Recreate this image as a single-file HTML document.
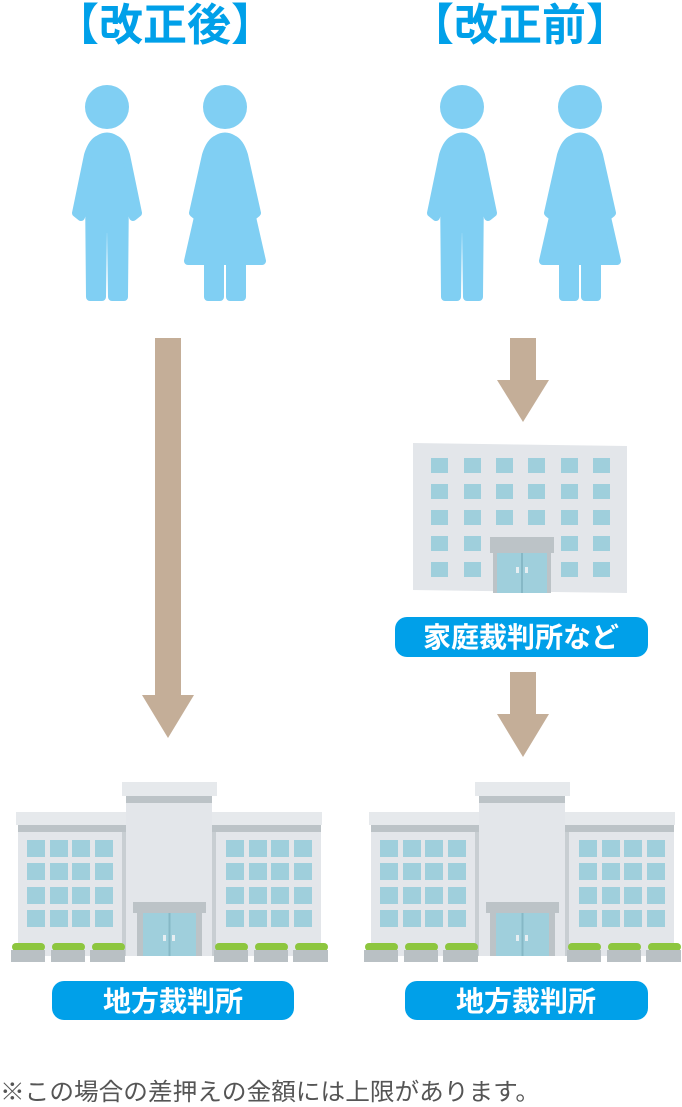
<!DOCTYPE html>
<html><head><meta charset="utf-8"><style>
html,body{margin:0;padding:0;background:#fff;}
svg{display:block;}
</style></head><body>
<svg width="682" height="1107" viewBox="0 0 682 1107" xmlns="http://www.w3.org/2000/svg">
<defs>
<g id="man" fill="#80cff3" stroke="#80cff3" stroke-width="8" stroke-linejoin="round" stroke-linecap="round">
  <circle cx="0" cy="0" r="22" stroke="none"/>
  <path d="M-8,32 Q0,27 8,32 Q15,35 19,48 L31,106 L26,110 L18,80 L17,190 L5,190 L4,122 L-4,122 L-5,190 L-17,190 L-18,80 L-26,110 L-31,106 L-19,48 Q-15,35 -8,32 Z"/>
</g>
<g id="woman" fill="#80cff3" stroke="#80cff3" stroke-width="8" stroke-linejoin="round" stroke-linecap="round">
  <circle cx="0" cy="0" r="22" stroke="none"/>
  <path d="M-8,32 Q0,27 8,32 Q15,35 19,48 L32,106 L27,110 L37,154 L17,154 L17,190 L5,190 L5,154 L-5,154 L-5,190 L-17,190 L-17,154 L-37,154 L-27,110 L-32,106 L-19,48 Q-15,35 -8,32 Z"/>
</g>
<g id="court">
  <rect x="122" y="782" width="95" height="14" fill="#e6e9ec"/>
  <rect x="126" y="796" width="86" height="7" fill="#bcc3c7"/>
  <rect x="126" y="803" width="86" height="153" fill="#e3e6ea"/>
  <rect x="16" y="812" width="110" height="13" fill="#e6e9ec"/>
  <rect x="212" y="812" width="110" height="13" fill="#e6e9ec"/>
  <rect x="18" y="825" width="108" height="7" fill="#bcc3c7"/>
  <rect x="212" y="825" width="109" height="7" fill="#bcc3c7"/>
  <rect x="18" y="832" width="108" height="124" fill="#e3e6ea"/>
  <rect x="122" y="832" width="4" height="124" fill="#c8ced2"/>
  <rect x="212" y="832" width="109" height="124" fill="#e3e6ea"/>
  <rect x="212" y="832" width="4" height="124" fill="#c8ced2"/>
  <g fill="#9fcfdc">
    <rect x="27" y="840" width="18" height="17"/><rect x="50" y="840" width="18" height="17"/><rect x="72" y="840" width="18" height="17"/><rect x="95" y="840" width="18" height="17"/>
    <rect x="27" y="863" width="18" height="17"/><rect x="50" y="863" width="18" height="17"/><rect x="72" y="863" width="18" height="17"/><rect x="95" y="863" width="18" height="17"/>
    <rect x="27" y="887" width="18" height="17"/><rect x="50" y="887" width="18" height="17"/><rect x="72" y="887" width="18" height="17"/><rect x="95" y="887" width="18" height="17"/>
    <rect x="27" y="910" width="18" height="17"/><rect x="50" y="910" width="18" height="17"/><rect x="72" y="910" width="18" height="17"/><rect x="95" y="910" width="18" height="17"/>
    <rect x="226" y="840" width="18" height="17"/><rect x="249" y="840" width="18" height="17"/><rect x="271" y="840" width="18" height="17"/><rect x="294" y="840" width="18" height="17"/>
    <rect x="226" y="863" width="18" height="17"/><rect x="249" y="863" width="18" height="17"/><rect x="271" y="863" width="18" height="17"/><rect x="294" y="863" width="18" height="17"/>
    <rect x="226" y="887" width="18" height="17"/><rect x="249" y="887" width="18" height="17"/><rect x="271" y="887" width="18" height="17"/><rect x="294" y="887" width="18" height="17"/>
    <rect x="226" y="910" width="18" height="17"/><rect x="249" y="910" width="18" height="17"/><rect x="271" y="910" width="18" height="17"/><rect x="294" y="910" width="18" height="17"/>
  </g>
  <rect x="133" y="902" width="73" height="11" fill="#bcc3c7"/>
  <rect x="137" y="913" width="65" height="43" fill="#bcc3c7"/>
  <rect x="143" y="913" width="53" height="43" fill="#9fcfdc"/>
  <rect x="168.5" y="913" width="2" height="43" fill="#86b8c6"/>
  <rect x="163" y="935" width="3" height="6" fill="#e6eef2"/><rect x="172" y="935" width="3" height="6" fill="#e6eef2"/>
  <g fill="#8dc63f">
    <rect x="12" y="943" width="33" height="8" rx="4"/><rect x="52" y="943" width="33" height="8" rx="4"/><rect x="92" y="943" width="33" height="8" rx="4"/>
    <rect x="215" y="943" width="33" height="8" rx="4"/><rect x="255" y="943" width="33" height="8" rx="4"/><rect x="295" y="943" width="33" height="8" rx="4"/>
  </g>
  <g fill="#b9c0c4">
    <rect x="11" y="950" width="34" height="12"/><rect x="51" y="950" width="34" height="12"/><rect x="90" y="950" width="35" height="12"/>
    <rect x="214" y="950" width="34" height="12"/><rect x="254" y="950" width="34" height="12"/><rect x="293" y="950" width="35" height="12"/>
  </g>
</g>
</defs>

<g font-family="'Liberation Sans','Noto Sans CJK JP',sans-serif" font-weight="bold" fill="#00a0e9" font-size="44" text-anchor="middle">
  <text x="165" y="40">【改正後】</text>
  <text x="520" y="40">【改正前】</text>
</g>

<use href="#man" x="107" y="107"/>
<use href="#woman" x="225" y="107"/>
<use href="#man" x="462" y="107"/>
<use href="#woman" x="580" y="107"/>

<g fill="#c4ae98">
  <rect x="155" y="338" width="26" height="358"/>
  <polygon points="142,695 194,695 168,738"/>
  <rect x="510" y="338" width="26" height="43"/>
  <polygon points="497,380 549,380 523,422"/>
  <rect x="510" y="672" width="26" height="43"/>
  <polygon points="497,714 549,714 523,757"/>
</g>

<polygon points="413,443 627,446 627,593 413,590" fill="#e3e6ea"/>
<g fill="#9fcfdc">
  <rect x="431" y="458" width="17" height="15"/><rect x="464" y="458" width="17" height="15"/><rect x="496" y="458" width="17" height="15"/><rect x="528" y="458" width="17" height="15"/><rect x="561" y="458" width="17" height="15"/><rect x="593" y="458" width="17" height="15"/>
  <rect x="431" y="484" width="17" height="15"/><rect x="464" y="484" width="17" height="15"/><rect x="496" y="484" width="17" height="15"/><rect x="528" y="484" width="17" height="15"/><rect x="561" y="484" width="17" height="15"/><rect x="593" y="484" width="17" height="15"/>
  <rect x="431" y="510" width="17" height="15"/><rect x="464" y="510" width="17" height="15"/><rect x="496" y="510" width="17" height="15"/><rect x="528" y="510" width="17" height="15"/><rect x="561" y="510" width="17" height="15"/><rect x="593" y="510" width="17" height="15"/>
  <rect x="431" y="536" width="17" height="15"/><rect x="464" y="536" width="17" height="15"/><rect x="561" y="536" width="17" height="15"/><rect x="593" y="536" width="17" height="15"/>
  <rect x="431" y="562" width="17" height="15"/><rect x="464" y="562" width="17" height="15"/><rect x="561" y="562" width="17" height="15"/><rect x="593" y="562" width="17" height="15"/>
</g>
<rect x="490" y="537" width="64" height="16" fill="#bcc3c7"/>
<rect x="493" y="553" width="58" height="40" fill="#bcc3c7"/>
<rect x="497" y="553" width="50" height="40" fill="#9fcfdc"/>
<rect x="521" y="553" width="2" height="40" fill="#86b8c6"/>
<rect x="516" y="567" width="3" height="6" fill="#e6eef2"/><rect x="525" y="567" width="3" height="6" fill="#e6eef2"/>

<use href="#court"/>
<use href="#court" x="353"/>

<g fill="#00a0e9">
  <rect x="395" y="617" width="253" height="40" rx="12"/>
  <rect x="52" y="981" width="242" height="39" rx="12"/>
  <rect x="405" y="981" width="243" height="39" rx="12"/>
</g>
<g font-family="'Liberation Sans','Noto Sans CJK JP',sans-serif" font-weight="bold" fill="#fff" font-size="28" text-anchor="middle">
  <text x="521" y="647">家庭裁判所など</text>
  <text x="173" y="1011">地方裁判所</text>
  <text x="526" y="1011">地方裁判所</text>
</g>
<text x="0" y="1100" font-family="'Liberation Sans','Noto Sans CJK JP',sans-serif" font-size="24" fill="#555" textLength="540" lengthAdjust="spacingAndGlyphs">※この場合の差押えの金額には上限があります。</text>
</svg>
</body></html>
